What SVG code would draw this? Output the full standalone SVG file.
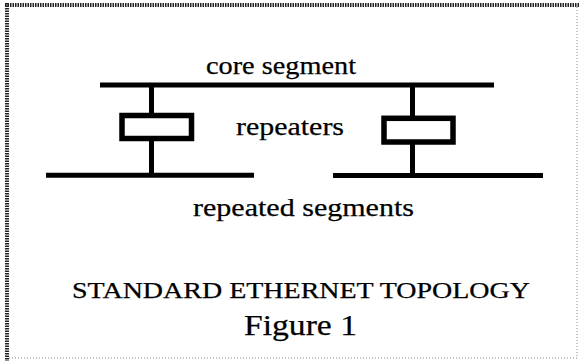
<svg xmlns="http://www.w3.org/2000/svg" width="579" height="361" viewBox="0 0 579 361">
<style>
.t{font-family:"Liberation Serif","Times New Roman",serif;fill:#000;stroke:#000;stroke-width:0.25;text-anchor:middle}
.seg{stroke:#000;stroke-width:5;fill:none}
.stub{stroke:#000;stroke-width:5;fill:none}
.box{stroke:#000;stroke-width:5.5;fill:#fff}
</style>
<rect width="579" height="361" fill="#fff"/>
<g id="frame">
<line x1="5" y1="5" x2="579" y2="5" stroke="#222" stroke-width="4" stroke-dasharray="1.5 1"/>
<line x1="7" y1="3" x2="7" y2="361" stroke="#222" stroke-width="4" stroke-dasharray="1.5 1"/>
<line x1="577" y1="7" x2="577" y2="358" stroke="#888" stroke-width="1" stroke-dasharray="1 2"/>
<line x1="9" y1="358" x2="577" y2="358" stroke="#888" stroke-width="1" stroke-dasharray="1 2"/>
</g>
<g id="connectors">
<line class="stub" x1="151.5" y1="85" x2="151.5" y2="115"/>
<line class="stub" x1="151.5" y1="140" x2="151.5" y2="175"/>
<line class="stub" x1="412.5" y1="85" x2="412.5" y2="118"/>
<line class="stub" x1="412.5" y1="142" x2="412.5" y2="175"/>
</g>
<g id="core-segment">
<line class="seg" x1="100" y1="85" x2="494" y2="85" stroke-width="5.5"/>
<text class="t" x="281" y="74" font-size="25" textLength="150" lengthAdjust="spacingAndGlyphs">core segment</text>
</g>
<g id="repeater-left">
<rect class="box" x="122" y="115.5" width="69.5" height="23"/>
</g>
<g id="repeater-right">
<rect class="box" x="384" y="118.3" width="69" height="23.7"/>
</g>
<text class="t" x="290" y="135" font-size="25" textLength="108" lengthAdjust="spacingAndGlyphs">repeaters</text>
<g id="segment-left">
<line class="seg" x1="46" y1="175.3" x2="254" y2="175.3"/>
</g>
<g id="segment-right">
<line class="seg" x1="333" y1="175.5" x2="543" y2="175.5"/>
</g>
<text class="t" x="303.5" y="216" font-size="25" textLength="221" lengthAdjust="spacingAndGlyphs">repeated segments</text>
<text class="t" x="301" y="298" font-size="23" textLength="458" lengthAdjust="spacingAndGlyphs">STANDARD ETHERNET TOPOLOGY</text>
<text class="t" x="300.5" y="335" font-size="29" textLength="113" lengthAdjust="spacingAndGlyphs">Figure 1</text>
</svg>
